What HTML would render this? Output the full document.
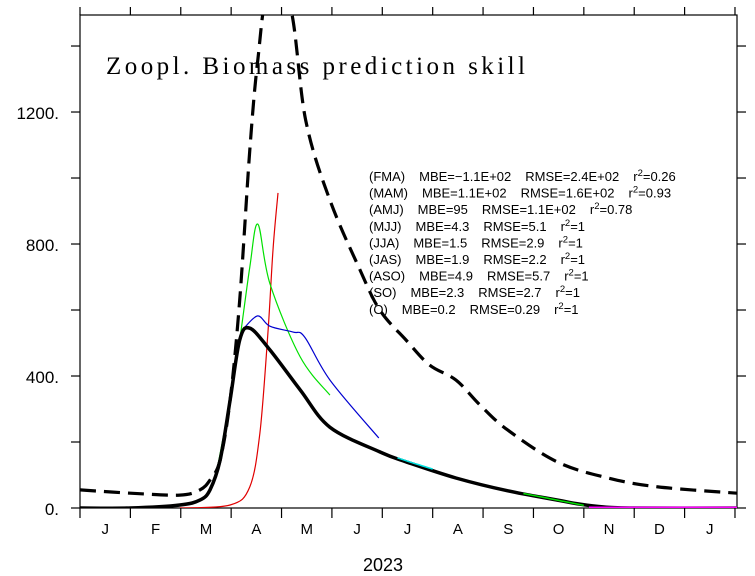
<!DOCTYPE html>
<html><head><meta charset="utf-8"><style>
body{margin:0;background:#fff;}
svg{display:block;font-family:"Liberation Sans",sans-serif;}
</style></head><body>
<svg id="chart" width="755" height="576" viewBox="0 0 755 576" xmlns="http://www.w3.org/2000/svg">
<g id="axes"></g>
<g id="series" clip-path="url(#clip)"></g>
<defs><clipPath id="clip"><rect x="80" y="15" width="657" height="493"/></clipPath></defs>
<text x="106" y="74" font-family="Liberation Serif, serif" font-size="25" textLength="419" lengthAdjust="spacing">Zoopl. Biomass prediction skill</text>
<g id="stats" font-size="13"></g>
<text x="383" y="571" font-size="18" text-anchor="middle">2023</text>
</svg>
<script>
const months=["J","F","M","A","M","J","J","A","S","O","N","D","J"];
const yTicks=[0,400,800,1200];
const yTickLabels=["0.","400.","800.","1200."];
const obsM=[0,1.0,1.98,2.38,2.58,2.78,2.98,3.17,3.37,3.77,4.37,4.96,5.95,6.47,7.46,8.49,9.48,9.9,10.4,11,13.05];
const obsV=[0,0,9,24,55,145,327,509,545,479,358,245,170,140,91,52,24,12,3,0,0];
const dashM=[0,1.0,1.98,2.38,2.58,2.78,2.98,3.17,3.37,3.53,3.73,4.17,4.48,4.96,5.56,5.95,6.47,6.94,7.46,7.94,8.49,9.48,10.48,11.47,13.04];
const dashV=[55,45,39,55,85,145,327,630,1085,1360,1560,1520,1175,933,721,600,509,433,388,312,236,139,91,64,45];
const greenM=[2.7,2.98,3.17,3.37,3.53,3.77,4.37,4.96];
const greenV=[100,327,509,730,860,680,458,342];
const blueM=[3.27,3.53,3.77,4.23,4.46,4.96,5.93];
const blueV=[548,582,551,533,518,388,212];
const redM=[1.98,2.98,3.37,3.57,3.73,3.83,3.93];
const redV=[0,9,64,227,530,782,955];
const cyanM=[6.3,6.7,7.0];
const cyanV=[152,132,118];
const green2M=[8.8,9.2,9.6,10.0];
const green2V=[44,32,20,8];
const magM=[10.1,13.05];
const magV=[0,0];
const stats=[["(FMA)","MBE=\u22121.1E+02","RMSE=2.4E+02","0.26"],["(MAM)","MBE=1.1E+02","RMSE=1.6E+02","0.93"],["(AMJ)","MBE=95","RMSE=1.1E+02","0.78"],["(MJJ)","MBE=4.3","RMSE=5.1","1"],["(JJA)","MBE=1.5","RMSE=2.9","1"],["(JAS)","MBE=1.9","RMSE=2.2","1"],["(ASO)","MBE=4.9","RMSE=5.7","1"],["(SO)","MBE=2.3","RMSE=2.7","1"],["(O)","MBE=0.2","RMSE=0.29","1"]];

const NS="http://www.w3.org/2000/svg";
const X0=80,X1=737,Y0=508,Y1=15,MMAX=13.04,VMAX=1494;
const xs=m=>X0+m*(X1-X0)/MMAX;
const ys=v=>Y0-v*(Y0-Y1)/VMAX;
function mk(t,p,a){const e=document.createElementNS(NS,t);for(const k in a)e.setAttribute(k,a[k]);p.appendChild(e);return e;}
const axes=document.getElementById('axes');
const frame=mk('rect',axes,{x:X0,y:Y1,width:X1-X0,height:Y0-Y1,fill:'none',stroke:'#000','stroke-width':1.2});


for(let v=0;v<=1400;v+=200){
  const y=ys(v);
  const t1=mk('line',axes,{x1:X0-9,x2:X0,y1:y,y2:y,stroke:'#000','stroke-width':1.2});
  
  
  const t2=mk('line',axes,{x1:X1,x2:X1+9,y1:y,y2:y,stroke:'#000','stroke-width':1.2});
  
  
}
yTicks.forEach((v,i)=>{
  const t=mk('text',axes,{x:59,y:ys(v)+7,'font-size':17,'text-anchor':'end'});
  t.textContent=yTickLabels[i];
  
  
});
for(let i=0;i<=13;i++){
  const x=xs(i);
  const t=mk('line',axes,{x1:x,x2:x,y1:Y0,y2:Y0+10,stroke:'#000','stroke-width':1.2});
  
  
  const t2=mk('line',axes,{x1:x,x2:x,y1:Y1,y2:Y1-8,stroke:'#000','stroke-width':1.2});
  
  
}
months.forEach((m,i)=>{
  const t=mk('text',axes,{x:xs(i+0.5),y:534,'font-size':15,'text-anchor':'middle'});
  t.textContent=m;
  
  
});
const ser=document.getElementById('series');
function line(M,V,attrs,name){
  const P=M.map((m,i)=>[xs(m),ys(V[i])]);
  let d='M'+P[0][0].toFixed(1)+','+P[0][1].toFixed(1);
  for(let i=0;i<P.length-1;i++){
    const p0=P[Math.max(0,i-1)],p1=P[i],p2=P[i+1],p3=P[Math.min(P.length-1,i+2)];
    const c1=[p1[0]+(p2[0]-p0[0])/6,p1[1]+(p2[1]-p0[1])/6];
    const c2=[p2[0]-(p3[0]-p1[0])/6,p2[1]-(p3[1]-p1[1])/6];
    d+='C'+c1.map(v=>v.toFixed(1)).join(',')+' '+c2.map(v=>v.toFixed(1)).join(',')+' '+p2.map(v=>v.toFixed(1)).join(',');
  }
  const p=mk('path',ser,Object.assign({d:d,fill:'none','stroke-linejoin':'round'},attrs));
  
  
}
line(redM,redV,{stroke:'#e00000','stroke-width':1.2},'forecast-fma-line');
line(greenM,greenV,{stroke:'#00e000','stroke-width':1.2},'forecast-mam-line');
line(blueM,blueV,{stroke:'#0000d0','stroke-width':1.2},'forecast-amj-line');
line(dashM,dashV,{stroke:'#000','stroke-width':3.2,'stroke-dasharray':'16,8'},'climatology-dashed-line');
line(obsM,obsV,{stroke:'#000','stroke-width':3.5},'observed-line');
line(cyanM,cyanV,{stroke:'#00e0e0','stroke-width':1.5},'forecast-jja-line');
line(green2M,green2V,{stroke:'#00e000','stroke-width':1.5},'forecast-so-line');
line(magM,magV,{stroke:'#ff00ff','stroke-width':3},'forecast-o-line');
const sg=document.getElementById('stats');
stats.forEach((r,i)=>{
  const y=181+i*16.6;
  const t=mk('text',sg,{x:369,y:y});
  
  
  const a=mk('tspan',t,{});a.textContent=r[0];
  const b=mk('tspan',t,{dx:14});b.textContent=r[1];
  const c=mk('tspan',t,{dx:14});c.textContent=r[2];
  const e=mk('tspan',t,{dx:14});e.textContent='r';
  const s=mk('tspan',t,{dy:-5,'font-size':9.5});s.textContent='2';
  const s2=mk('tspan',t,{dy:5});s2.textContent='='+r[3];
});
</script>
</body></html>
